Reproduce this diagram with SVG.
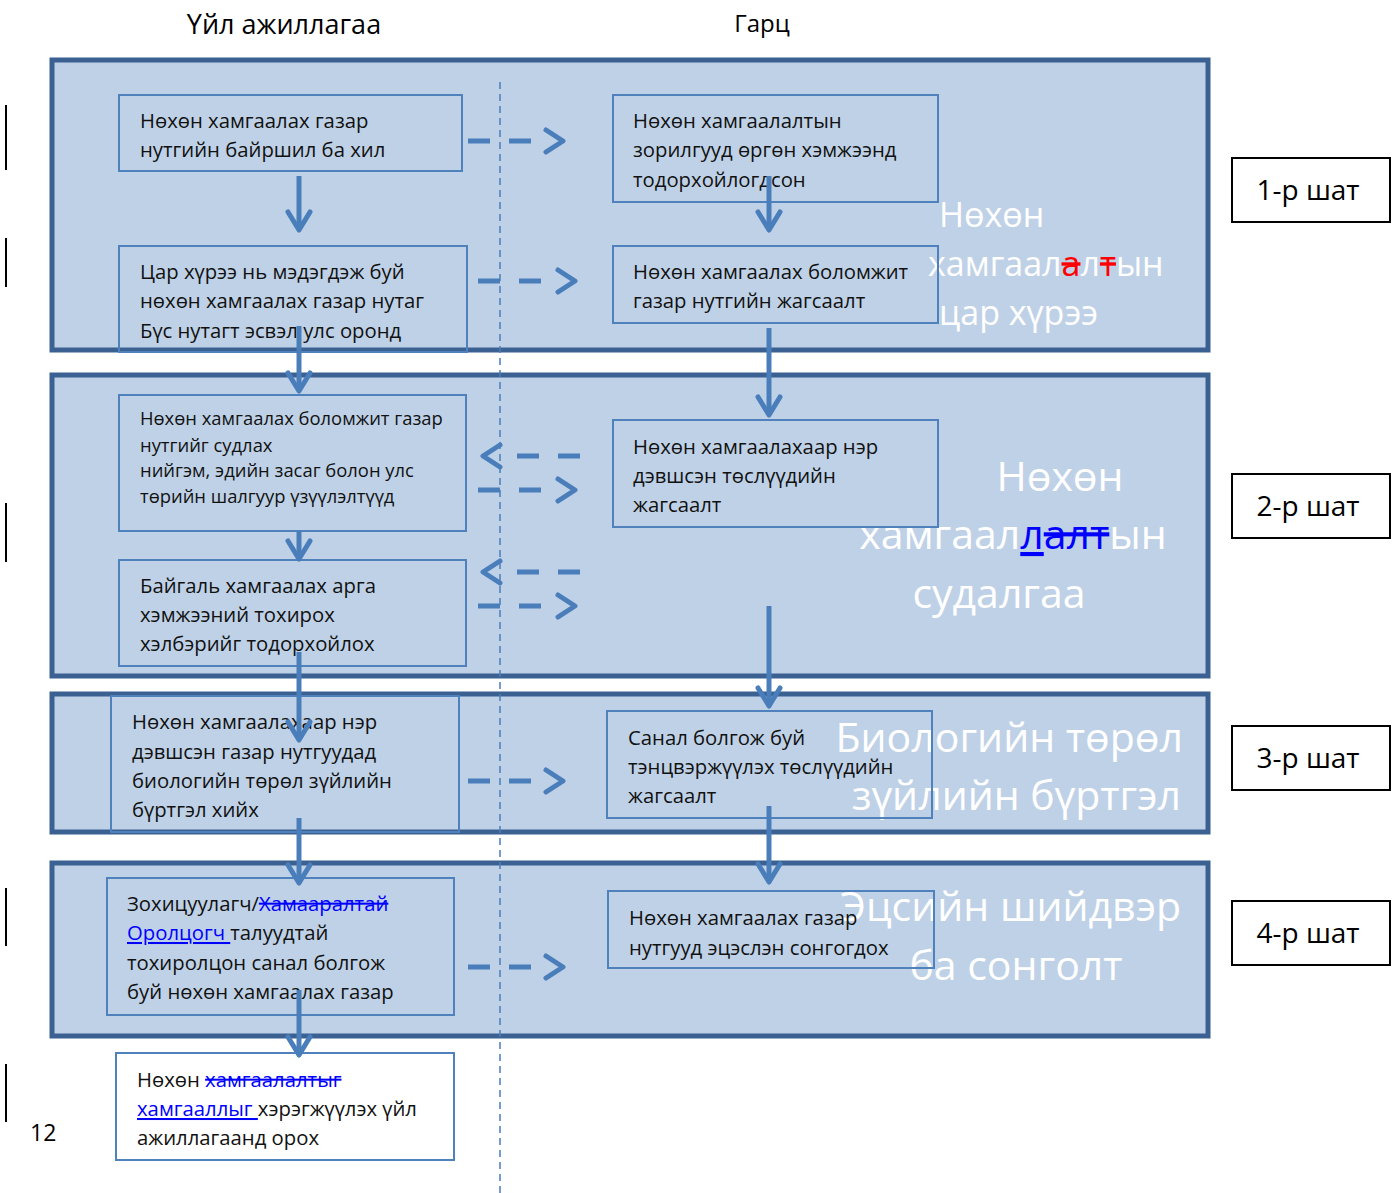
<svg xmlns="http://www.w3.org/2000/svg" width="1392" height="1193" viewBox="0 0 1392 1193">
<style>
.band{fill:#BFD1E7;stroke:#3B6193;stroke-width:5}
.box{fill:none;stroke:#4F81BD;stroke-width:2}
.t{font-family:"Open Sans","Noto Sans",sans-serif;font-size:20.3px;fill:#111}
.ts{font-family:"Open Sans","Noto Sans",sans-serif;font-size:18.4px;fill:#111}
.big{font-family:"Open Sans","Noto Sans",sans-serif;font-size:34px;fill:#fff}
.big2{font-family:"Open Sans","Noto Sans",sans-serif;font-size:41px;fill:#fff}
.hd{font-family:"Open Sans","Noto Sans",sans-serif;font-size:27px;fill:#000}
.sp{font-family:"Open Sans","Noto Sans",sans-serif;font-size:28px;fill:#000}
.step{fill:#fff;stroke:#000;stroke-width:2}
.ar{fill:none;stroke:#4A7EBB;stroke-width:5;stroke-linecap:round;stroke-linejoin:round}
.sl{fill:none;stroke:#4A7EBB;stroke-width:5}
.dl{fill:none;stroke:#4A7EBB;stroke-width:5;stroke-dasharray:22,19}
.mark{stroke:#000;stroke-width:2}
.ins{fill:#0000FF;text-decoration:underline}
.del{fill:#0000FF;text-decoration:line-through}
.delr{fill:#FF0000;text-decoration:line-through}
</style>
<rect width="1392" height="1193" fill="#fff"/>
<g id="headers">
<text class="hd" x="284" y="34" text-anchor="middle">Үйл ажиллагаа</text>
<text class="hd" x="762" y="32" text-anchor="middle" style="font-size:24px">Гарц</text>
</g>
<g id="margin">
<line class="mark" x1="6" y1="105" x2="6" y2="170"/>
<line class="mark" x1="6" y1="238" x2="6" y2="287"/>
<line class="mark" x1="6" y1="503" x2="6" y2="562"/>
<line class="mark" x1="6" y1="888" x2="6" y2="946"/>
<line class="mark" x1="6" y1="1064" x2="6" y2="1122"/>
<text class="hd" x="30" y="1141" style="font-size:23px">12</text>
</g>
<g id="bands">
<rect id="band1" class="band" x="52" y="60" width="1156" height="290"/>
<rect id="band2" class="band" x="52" y="375" width="1156" height="301"/>
<rect id="band3" class="band" x="52" y="694" width="1156" height="138"/>
<rect id="band4" class="band" x="52" y="863" width="1156" height="173"/>
</g>
<line x1="500" y1="82" x2="500" y2="1193" stroke="#4A7EBB" stroke-width="1.5" stroke-dasharray="7,5"/>
<g id="bandlabels">
<text class="big" x="939" y="227">Нөхөн</text>
<text class="big" x="928" y="276">хамгаал<tspan class="delr">а</tspan>л<tspan class="delr">т</tspan>ын</text>
<text class="big" x="939" y="325">цар хүрээ</text>
<text class="big2" x="1060" y="491" text-anchor="middle">Нөхөн</text>
<text class="big2" x="1013" y="549" text-anchor="middle">хамгаал<tspan class="ins">л</tspan><tspan class="del">алт</tspan>ын</text>
<text class="big2" x="999" y="608" text-anchor="middle">судалгаа</text>
<text class="big2" x="1183" y="752" text-anchor="end">Биологийн төрөл</text>
<text class="big2" x="1181" y="810" text-anchor="end">зүйлийн бүртгэл</text>
<text class="big2" x="1181" y="921" text-anchor="end">Эцсийн шийдвэр</text>
<text class="big2" x="1016" y="980" text-anchor="middle">ба сонголт</text>
</g>
<g id="steps">
<g id="step1"><rect class="step" x="1232" y="158" width="158" height="64"/><text class="sp" x="1308" y="200" text-anchor="middle">1-р шат</text></g>
<g id="step2"><rect class="step" x="1232" y="474" width="158" height="64"/><text class="sp" x="1308" y="516" text-anchor="middle">2-р шат</text></g>
<g id="step3"><rect class="step" x="1232" y="726" width="158" height="64"/><text class="sp" x="1308" y="768" text-anchor="middle">3-р шат</text></g>
<g id="step4"><rect class="step" x="1232" y="901" width="158" height="64"/><text class="sp" x="1308" y="943" text-anchor="middle">4-р шат</text></g>
</g>
<g id="n1"><rect class="box" x="119" y="95" width="343" height="76"/>
<text class="t" x="140" y="128">Нөхөн хамгаалах газар</text><text class="t" x="140" y="157">нутгийн байршил ба хил</text></g>
<g id="n2"><rect class="box" x="119" y="246" width="348" height="106"/>
<text class="t" x="140" y="279">Цар хүрээ нь мэдэгдэж буй</text><text class="t" x="140" y="308">нөхөн хамгаалах газар нутаг</text><text class="t" x="140" y="338">Бүс нутагт эсвэл улс оронд</text></g>
<g id="n3"><rect class="box" x="613" y="95" width="325" height="107"/>
<text class="t" x="633" y="128">Нөхөн хамгаалалтын</text><text class="t" x="633" y="157">зорилгууд өргөн хэмжээнд</text><text class="t" x="633" y="187">тодорхойлогдсон</text></g>
<g id="n4"><rect class="box" x="613" y="246" width="325" height="77"/>
<text class="t" x="633" y="279">Нөхөн хамгаалах боломжит</text><text class="t" x="633" y="308">газар нутгийн жагсаалт</text></g>
<g id="n5"><rect class="box" x="119" y="395" width="347" height="136"/>
<text class="ts" x="140" y="425">Нөхөн хамгаалах боломжит газар</text><text class="ts" x="140" y="452">нутгийг судлах</text><text class="ts" x="140" y="477">нийгэм, эдийн засаг болон улс</text><text class="ts" x="140" y="503">төрийн шалгуур үзүүлэлтүүд</text></g>
<g id="n6"><rect class="box" x="119" y="560" width="347" height="106"/>
<text class="t" x="140" y="593">Байгаль хамгаалах арга</text><text class="t" x="140" y="622">хэмжээний тохирох</text><text class="t" x="140" y="651">хэлбэрийг тодорхойлох</text></g>
<g id="n7"><rect class="box" x="613" y="420" width="325" height="107"/>
<text class="t" x="633" y="454">Нөхөн хамгаалахаар нэр</text><text class="t" x="633" y="483">дэвшсэн төслүүдийн</text><text class="t" x="633" y="512">жагсаалт</text></g>
<g id="n8"><rect class="box" x="111" y="696" width="348" height="136"/>
<text class="t" x="132" y="729">Нөхөн хамгаалахаар нэр</text><text class="t" x="132" y="759">дэвшсэн газар нутгуудад</text><text class="t" x="132" y="788">биологийн төрөл зүйлийн</text><text class="t" x="132" y="817">бүртгэл хийх</text></g>
<g id="n9"><rect class="box" x="607" y="711" width="325" height="107"/>
<text class="t" x="628" y="745">Санал болгож буй</text><text class="t" x="628" y="774">тэнцвэржүүлэх төслүүдийн</text><text class="t" x="628" y="803">жагсаалт</text></g>
<g id="n10"><rect class="box" x="107" y="878" width="347" height="137"/>
<text class="t" x="127" y="911">Зохицуулагч/<tspan class="del">Хамааралтай</tspan></text><text class="t" x="127" y="940"><tspan class="ins">Оролцогч </tspan>талуудтай</text><text class="t" x="127" y="970">тохиролцон санал болгож</text><text class="t" x="127" y="999">буй нөхөн хамгаалах газар</text></g>
<g id="n11"><rect class="box" x="608" y="891" width="326" height="77"/>
<text class="t" x="629" y="925">Нөхөн хамгаалах газар</text><text class="t" x="629" y="955">нутгууд эцэслэн сонгогдох</text></g>
<g id="n12"><rect class="box" x="116" y="1053" width="338" height="107" fill="#fff"/>
<text class="t" x="137" y="1087">Нөхөн <tspan class="del">хамгаалалтыг</tspan></text><text class="t" x="137" y="1116"><tspan class="ins">хамгааллыг </tspan>хэрэгжүүлэх үйл</text><text class="t" x="137" y="1145">ажиллагаанд орох</text></g>
<g id="connectors">
<path class="sl" d="M299 176V230"/><path class="ar" d="M288 212L299 230L310 212"/>
<path class="sl" d="M299 326V391"/><path class="ar" d="M288 373L299 391L310 373"/>
<path class="sl" d="M299 531V559"/><path class="ar" d="M288 541L299 559L310 541"/>
<path class="sl" d="M299 652V740"/><path class="ar" d="M288 722L299 740L310 722"/>
<path class="sl" d="M299 818V883"/><path class="ar" d="M288 865L299 883L310 865"/>
<path class="sl" d="M299 990V1055"/><path class="ar" d="M288 1037L299 1055L310 1037"/>
<path class="sl" d="M769 176V230"/><path class="ar" d="M758 212L769 230L780 212"/>
<path class="sl" d="M769 328V415"/><path class="ar" d="M758 397L769 415L780 397"/>
<path class="sl" d="M769 606V706"/><path class="ar" d="M758 688L769 706L780 688"/>
<path class="sl" d="M769 806V882"/><path class="ar" d="M758 864L769 882L780 864"/>
<path class="dl" d="M468 141H545"/><path class="ar" d="M546 130L563 141L546 152"/>
<path class="dl" d="M478 281H556"/><path class="ar" d="M558 270L575 281L558 292"/>
<path class="dl" d="M478 490H556"/><path class="ar" d="M558 479L575 490L558 501"/>
<path class="dl" d="M478 606H556"/><path class="ar" d="M558 595L575 606L558 617"/>
<path class="dl" d="M468 781H545"/><path class="ar" d="M546 770L563 781L546 792"/>
<path class="dl" d="M468 967H545"/><path class="ar" d="M546 956L563 967L546 978"/>
<path class="dl" d="M580 456H500"/><path class="ar" d="M500 445L483 456L500 467"/>
<path class="dl" d="M580 572H500"/><path class="ar" d="M500 561L483 572L500 583"/>
</g>
</svg>
